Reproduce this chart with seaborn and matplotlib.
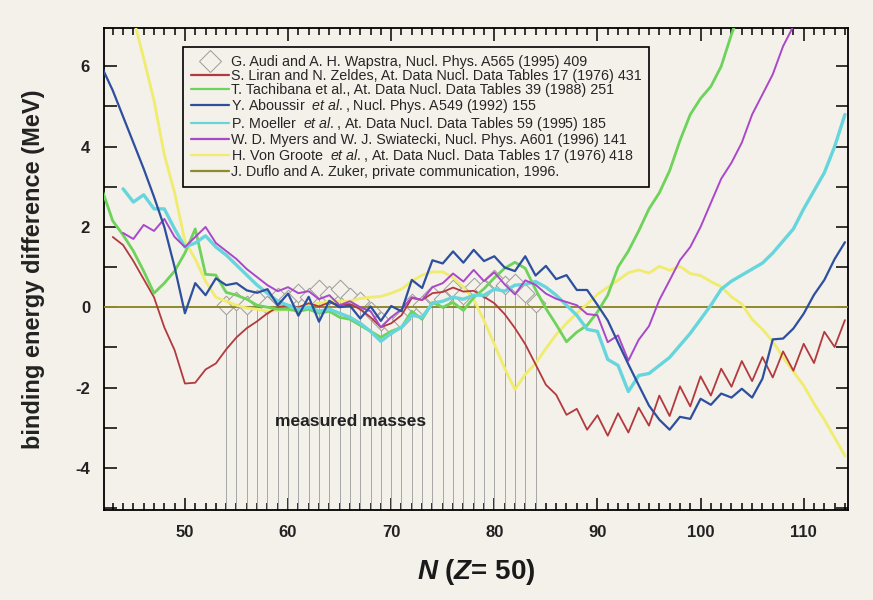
import numpy as np
import matplotlib
matplotlib.use("Agg")
import matplotlib.pyplot as plt
import seaborn as sns
from matplotlib.lines import Line2D
from matplotlib.ticker import MultipleLocator

# ---------------- data ----------------
n_audi = list(range(54, 85))
audi = [0.05, 0.15, 0.05, 0.2, 0.05, 0.25, 0.2, 0.35, 0.25, 0.45,
        0.3, 0.45, 0.25, 0.15, -0.1, -0.35, -0.45, -0.3, 0.1, 0.05,
        0.3, 0.2, 0.45, 0.3, 0.5, 0.45, 0.7, 0.55, 0.6, 0.35, 0.1]

n_liran = list(range(43, 115))
liran = [1.75, 1.55, 1.15, 0.7, 0.25, -0.5, -1.07, -1.9, -1.88, -1.55,
         -1.4, -1.05, -0.75, -0.52, -0.35, -0.15, 0.0, 0.05, 0.0, 0.1,
         0.02, 0.12, 0.05, 0.08, -0.05, -0.25, -0.5, -0.4, -0.2, 0.23,
         0.18, 0.35, 0.38, 0.49, 0.39, 0.41, 0.26, 0.1, -0.17, -0.52,
         -0.92, -1.42, -1.93, -2.18, -2.68, -2.53, -3.05, -2.69, -3.2, -2.64,
         -3.12, -2.5, -2.95, -2.2, -2.71, -1.97, -2.47, -1.72, -2.2, -1.53,
         -1.98, -1.34, -1.84, -1.24, -1.75, -1.1, -1.58, -0.91, -1.39, -0.61,
         -0.99, -0.32]

n_tachibana = list(range(42, 105))
tachibana = [2.9, 2.15, 1.8, 1.4, 0.9, 0.35, 0.6, 0.9, 1.35, 1.95,
             0.82, 0.8, 0.37, 0.3, 0.2, 0.05, 0.0, -0.05, -0.05, -0.1,
             -0.05, -0.15, -0.1, -0.25, -0.3, -0.45, -0.6, -0.75, -0.6, -0.5,
             -0.1, -0.3, 0.12, 0.0, 0.12, -0.08, 0.24, 0.46, 0.73, 0.97,
             1.12, 0.97, 0.44, -0.03, -0.43, -0.86, -0.62, -0.45, -0.12, 0.3,
             1.0, 1.4, 1.9, 2.45, 2.85, 3.4, 4.15, 4.8, 5.2, 5.5,
             6.0, 6.8, 7.5]

n_aboussir = list(range(42, 115))
aboussir = [5.95, 5.4, 4.75, 4.1, 3.45, 2.75, 2.0, 1.0, -0.15, 0.6,
            0.3, 0.72, 0.55, 0.6, 0.42, 0.36, 0.45, 0.05, 0.34, -0.21,
            0.26, -0.36, 0.16, 0.0, 0.04, -0.28, 0.02, -0.34, 0.03, -0.1,
            0.68, 0.48, 1.17, 1.09, 1.39, 1.11, 1.43, 1.15, 1.27, 0.99,
            0.9, 1.27, 0.79, 1.03, 0.7, 0.8, 0.43, 0.43, 0.06, -0.33,
            -0.88, -1.42, -1.94, -2.45, -2.8, -3.05, -2.73, -2.78, -2.28, -2.43,
            -2.15, -2.25, -2.03, -2.25, -1.78, -0.8, -0.78, -0.53, -0.16, 0.31,
            0.68, 1.2, 1.62]

n_moeller = list(range(44, 115))
moeller = [2.95, 2.62, 2.8, 2.45, 2.45, 1.95, 1.5, 1.6, 1.78, 1.5,
           1.3, 1.05, 0.8, 0.55, 0.35, 0.15, 0.05, -0.05, 0.0, -0.1,
           -0.05, -0.15, -0.25, -0.4, -0.6, -0.85, -0.65, -0.5, -0.2, -0.25,
           0.1, 0.15, 0.25, 0.2, 0.3, 0.3, 0.45, 0.4, 0.55, 0.57,
           0.64, 0.5, 0.3, 0.05, -0.2, -0.55, -0.6, -1.3, -1.45, -2.1,
           -1.7, -1.65, -1.45, -1.25, -0.95, -0.65, -0.3, 0.05, 0.45, 0.65,
           0.8, 0.95, 1.1, 1.35, 1.65, 1.95, 2.45, 2.9, 3.35, 4.0,
           4.8]

n_myers = list(range(44, 111))
myers = [1.85, 1.7, 2.05, 1.9, 2.2, 1.75, 1.5, 1.75, 2.0, 1.6,
         1.4, 1.2, 0.95, 0.75, 0.55, 0.4, 0.5, 0.35, 0.4, 0.2,
         0.3, 0.05, 0.15, 0.0, -0.1, -0.5, -0.25, -0.05, 0.25, 0.18,
         0.5, 0.6, 0.84, 0.64, 0.93, 0.65, 0.87, 0.57, 0.32, 0.67,
         0.56, 0.34, 0.21, 0.13, 0.05, -0.17, -0.2, -0.87, -0.7, -1.33,
         -0.81, -0.47, 0.18, 0.67, 1.17, 1.5, 2.0, 2.6, 3.2, 3.6,
         4.1, 4.8, 5.3, 5.8, 6.5, 7.0, 7.5]

n_groote = list(range(45, 115))
groote = [7.2, 6.2, 5.15, 3.8, 2.85, 1.65, 1.2, 0.65, 0.25, 0.15,
          0.05, -0.02, -0.05, -0.1, -0.08, -0.05, 0.0, 0.05, 0.1, 0.15,
          0.15, 0.15, 0.22, 0.25, 0.27, 0.35, 0.45, 0.65, 0.8, 0.88,
          0.88, 0.74, 0.5, 0.2, -0.33, -0.92, -1.52, -2.05, -1.67, -1.4,
          -1.03, -0.68, -0.4, -0.15, 0.08, 0.32, 0.5, 0.67, 0.86, 0.93,
          0.85, 1.02, 0.92, 1.02, 0.84, 0.79, 0.64, 0.51, 0.26, 0.08,
          -0.3, -0.55, -0.85, -1.25, -1.6, -1.95, -2.4, -2.8, -3.25, -3.7]

n_duflo = [42, 115]
duflo = [0.0, 0.0]

labels = [
    "G. Audi and A. H. Wapstra, Nucl. Phys. A565 (1995) 409",
    "S. Liran and N. Zeldes, At. Data Nucl. Data Tables 17 (1976) 431",
    "T. Tachibana et al., At. Data Nucl. Data Tables 39 (1988) 251",
    r"Y. Aboussir  $\it{et\ al.}$, Nucl. Phys. A549 (1992) 155",
    r"P. Moeller  $\it{et\ al.}$, At. Data Nucl. Data Tables 59 (1995) 185",
    "W. D. Myers and W. J. Swiatecki, Nucl. Phys. A601 (1996) 141",
    r"H. Von Groote  $\it{et\ al.}$, At. Data Nucl. Data Tables 17 (1976) 418",
    "J. Duflo and A. Zuker, private communication, 1996.",
]

# ---------------- style ----------------
BG = "#f4f0ea"
sns.set_style("ticks")
plt.rcParams["font.family"] = ["Liberation Sans", "DejaVu Sans"]
plt.rcParams["mathtext.fontset"] = "custom"
plt.rcParams["mathtext.rm"] = "Liberation Sans"
plt.rcParams["mathtext.it"] = "Liberation Sans:italic"
plt.rcParams["mathtext.bf"] = "Liberation Sans:bold"
plt.rcParams["mathtext.bfit"] = "Liberation Sans:italic:bold"
plt.rcParams["axes.unicode_minus"] = False

fig = plt.figure(figsize=(8.73, 6.0), dpi=100, facecolor=BG)
ax = fig.add_axes([0.1191, 0.1500, 0.8523, 0.803])
ax.set_facecolor(BG)
ax.set_xlim(42.15, 114.3)
ax.set_ylim(-5.05, 6.95)

c_audi = "#9c9c9c"
c_red = "#b23a3e"
c_green = "#6dd35a"
c_blue = "#2c4f9e"
c_cyan = "#66d6dc"
c_mag = "#a948c9"
c_yel = "#efec6e"
c_olive = "#8f8a2e"

# measured masses: stems + open diamonds
ax.vlines(n_audi, ax.get_ylim()[0], audi, colors="#a6a6a6", lw=0.7, zorder=1)
sns.scatterplot(x=n_audi, y=audi, marker="D", s=90, color=BG,
                edgecolor=c_audi, linewidth=0.7, zorder=2, ax=ax, legend=False)

series = [
    (n_duflo, duflo, c_olive, 1.4),
    (n_groote, groote, c_yel, 2.0),
    (n_liran, liran, c_red, 1.3),
    (n_tachibana, tachibana, c_green, 2.0),
    (n_moeller, moeller, c_cyan, 2.4),
    (n_myers, myers, c_mag, 1.4),
    (n_aboussir, aboussir, c_blue, 1.6),
]
for i, (nx, vy, col, lw) in enumerate(series):
    sns.lineplot(x=nx, y=vy, color=col, lw=lw, ax=ax, sort=False,
                 estimator=None, zorder=3 + i, legend=False)

ax.text(66.1, -2.85, "measured masses", ha="center", va="center",
        fontsize=12.5, fontweight="bold", color="#222222", zorder=10)

# axes / ticks
for sp in ax.spines.values():
    sp.set_visible(True)
    sp.set_color("black")
    sp.set_linewidth(1.3)
ax.xaxis.set_major_locator(MultipleLocator(10))
ax.xaxis.set_minor_locator(MultipleLocator(1))
ax.yaxis.set_major_locator(MultipleLocator(2))
ax.yaxis.set_minor_locator(MultipleLocator(1))
ax.tick_params(which="both", direction="in", top=True, right=True,
               color="black", width=1.1)
ax.tick_params(axis="x", which="major", length=9, pad=11)
ax.tick_params(axis="x", which="minor", length=5)
ax.tick_params(axis="y", which="both", length=9, pad=10)
for lab in ax.get_xticklabels() + ax.get_yticklabels():
    lab.set_fontsize(12)
    lab.set_fontweight("bold")
    lab.set_color("#222222")

ax.set_xlabel(r"$\mathbfit{N}$ ($\mathbfit{Z}$= 50)", fontsize=20, labelpad=12,
              color="#1a1a1a", fontweight="bold")
ax.set_ylabel("binding energy difference (MeV)", fontsize=17,
              fontweight="bold", labelpad=22, color="#222222")

# legend
handles = [Line2D([], [], marker="D", ls="none", ms=11, mfc=BG, mec=c_audi, mew=0.7)]
for col in [c_red, c_green, c_blue, c_cyan, c_mag, c_yel, c_olive]:
    handles.append(Line2D([], [], color=col, lw=1.6))
leg = ax.legend(handles, labels, loc="upper left", bbox_to_anchor=(0.106, 0.96),
                borderaxespad=0, fontsize=10.3, frameon=True, fancybox=False,
                framealpha=1, facecolor=BG, edgecolor="black",
                handlelength=2.7, handletextpad=0.1, labelspacing=0.0,
                borderpad=0.55)
leg.get_frame().set_linewidth(1.2)
leg.set_zorder(20)

fig.savefig("out.png", dpi=100, facecolor=BG)
